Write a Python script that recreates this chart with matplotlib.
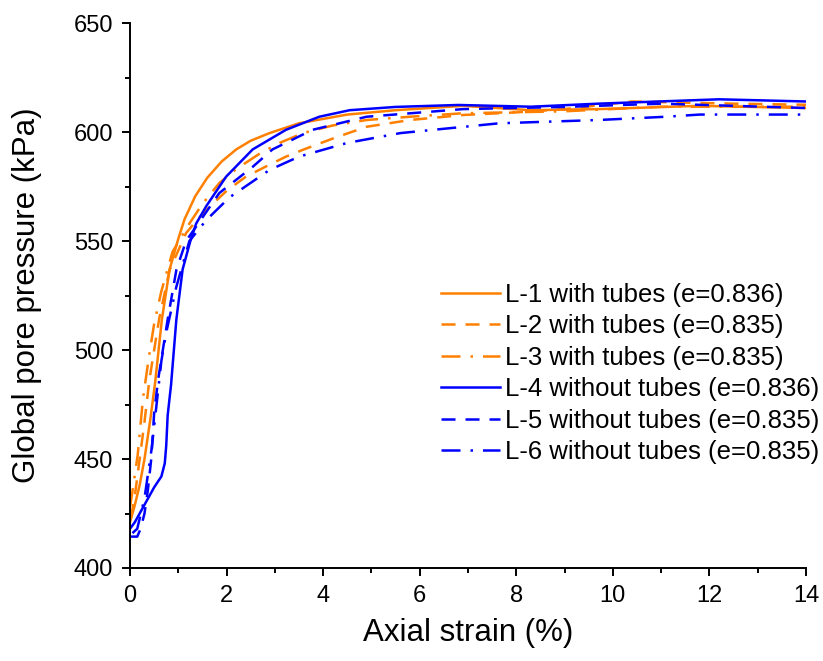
import matplotlib
matplotlib.use("Agg")
import matplotlib.pyplot as plt
from matplotlib.ticker import MultipleLocator

plt.rcParams["font.family"] = ["Liberation Sans", "DejaVu Sans"]

ORANGE = "#ff8000"
BLUE = "#0000ff"

# L-1 with tubes (e=0.836)
x1 = [0.0, 0.09, 0.2, 0.3, 0.42, 0.52, 0.66, 0.82, 1.0, 1.13, 1.35, 1.6, 1.9, 2.2, 2.5, 2.89, 3.5, 4.5, 5.5, 6.9, 8.3, 9.7, 11.8, 14.0]
y1 = [421, 428, 438, 450, 468, 485, 514, 537, 551, 560, 570.5, 579, 586.5, 592, 596, 599.5, 604, 608, 610, 612, 610, 610.5, 612, 611]

# L-2 with tubes (e=0.835)
x2 = [0.02, 0.1, 0.2, 0.3, 0.4, 0.5, 0.61, 0.82, 1.16, 1.4, 1.71, 2.0, 2.4, 2.8, 3.23, 3.6, 4.2, 4.9, 5.8, 6.9, 8.0, 9.0, 10.4, 12.5, 14.0]
y2 = [423, 433, 450, 467, 486, 500, 515, 536.7, 553.6, 560, 567, 573, 579.5, 584, 588.7, 592, 597, 602.4, 605.5, 607.8, 609, 610.5, 614, 613, 612.5]

# L-3 with tubes (e=0.835)
x3 = [0.0, 0.05, 0.16, 0.27, 0.4, 0.5, 0.65, 0.88, 1.2, 1.5, 1.85, 2.2, 2.68, 3.1, 3.58, 4.2, 4.9, 5.8, 6.9, 9.0, 11.0, 14.0]
y3 = [428, 435, 452, 478, 498, 512, 527, 545, 557, 567, 576.6, 583, 590, 595, 599.5, 603, 605.5, 607, 608.6, 609.5, 611.6, 611.6]

# L-4 without tubes (e=0.836)
x4 = [0.0, 0.1, 0.3, 0.5, 0.65, 0.72, 0.75, 0.78, 0.85, 0.96, 1.09, 1.25, 1.37, 1.58, 1.99, 2.54, 3.23, 3.92, 4.55, 5.5, 6.8, 8.3, 9.7, 12.2, 14.0]
y4 = [418, 421, 429, 437, 442, 448, 456, 470, 484, 514, 537, 550, 558, 566, 579.5, 592, 601, 607, 610, 611.5, 612.4, 611.6, 613, 615, 614]

# L-5 without tubes (e=0.835)
x5 = [0.0, 0.15, 0.22, 0.3, 0.37, 0.44, 0.5, 0.58, 0.68, 0.78, 0.96, 1.16, 1.37, 1.85, 2.54, 2.95, 3.78, 4.9, 6.9, 9.0, 11.0, 14.0]
y5 = [414.4, 414.4, 418, 425, 435.8, 450, 471, 486, 500, 514, 536.7, 550, 556.6, 572, 584, 592, 601, 607, 610.5, 611.5, 613, 611]

# L-6 without tubes (e=0.835)
x6 = [0.05, 0.15, 0.3, 0.45, 0.55, 0.65, 0.75, 0.96, 1.23, 1.58, 2.06, 2.89, 3.5, 4.5, 5.6, 7.65, 9.7, 11.1, 11.8, 14.0]
y6 = [416, 418, 432, 455, 475, 495, 508, 529, 550, 559.6, 570, 582.6, 588.7, 595, 599.5, 604, 605.5, 607, 608, 608]

series = [
    (x1, y1, ORANGE, "-", "L-1 with tubes (e=0.836)"),
    (x2, y2, ORANGE, "--", "L-2 with tubes (e=0.835)"),
    (x3, y3, ORANGE, "-.", "L-3 with tubes (e=0.835)"),
    (x4, y4, BLUE, "-", "L-4 without tubes (e=0.836)"),
    (x5, y5, BLUE, "--", "L-5 without tubes (e=0.835)"),
    (x6, y6, BLUE, "-.", "L-6 without tubes (e=0.835)"),
]

# dash patterns in units of line width
DASHES = {"--": (5.6, 4.0), "-.": (7.6, 4.0, 1.0, 4.0)}

fig = plt.figure(figsize=(8.23, 6.61), dpi=100)
ax = fig.add_axes((130 / 823, 93 / 661, 676 / 823, 545 / 661))

for x, y, c, ls, label in series:
    line, = ax.plot(x, y, color=c, lw=1.8, label=label)
    if ls in DASHES:
        line.set_dashes(DASHES[ls])

ax.set_xlim(0, 14)
ax.set_ylim(400, 650)
ax.xaxis.set_major_locator(MultipleLocator(2))
ax.xaxis.set_minor_locator(MultipleLocator(1))
ax.yaxis.set_major_locator(MultipleLocator(50))
ax.yaxis.set_minor_locator(MultipleLocator(25))

for side in ("top", "right"):
    ax.spines[side].set_visible(False)
for side in ("left", "bottom"):
    ax.spines[side].set_linewidth(1.4)

ax.tick_params(which="major", direction="out", length=6, width=1.4,
               labelsize=17, pad=6)
ax.tick_params(which="minor", direction="out", length=3.5, width=1.4)

ax.set_xlabel("Axial strain (%)", fontsize=22.5, labelpad=8)
ax.set_ylabel("Global pore pressure (kPa)", fontsize=22.5, labelpad=23)

ax.legend(loc="center", bbox_to_anchor=(0.74, 0.357), frameon=False,
          fontsize=18.5, handlelength=2.3, handletextpad=0.2,
          labelspacing=0.29, borderpad=0)

fig.savefig("out.png", dpi=100, facecolor="white")
